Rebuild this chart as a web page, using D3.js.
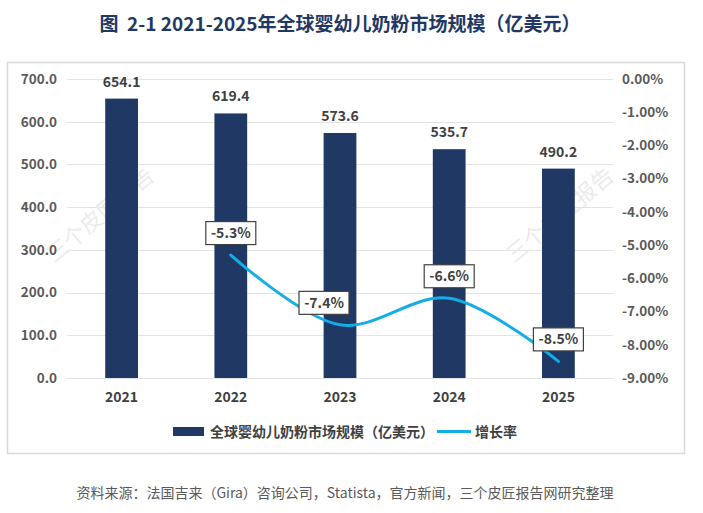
<!DOCTYPE html>
<meta charset="utf-8">
<script src="https://d3js.org/d3.v7.min.js"></script>
<style>
  body { margin: 0; background: #fff; }
  text { font-family: "Microsoft YaHei", "Noto Sans CJK SC", sans-serif; }
</style>
<div id="chart"></div>
<script>

// data
var years = ["2021", "2022", "2023", "2024", "2025"];
var marketSize = [654.1, 619.4, 573.6, 535.7, 490.2];   // 亿美元
var growth = [null, -5.3, -7.4, -6.6, -8.5];            // %
var leftTicks = [0, 100, 200, 300, 400, 500, 600, 700];
var rightTicks = [0, -1, -2, -3, -4, -5, -6, -7, -8, -9];

var W = 703, H = 513;
var plot = {left: 67, right: 613, top: 79, bottom: 378};

// plain hyphen minus, like the original
var loc = d3.formatLocale({decimal: ".", thousands: ",", grouping: [3], currency: ["", ""], minus: "-"});
var f1 = loc.format(".1f"), f2 = loc.format(".2f");

var svg = d3.select("#chart").append("svg")
    .attr("width", W)
    .attr("height", H);

// title
svg.append("text")
  .attr("x", 340).attr("y", 31)
  .attr("text-anchor", "middle")
  .attr("font-size", "19px")
  .attr("font-weight", "bold")
  .attr("fill", "#1f3864")
  .text("图\u00a0\u00a02-1 2021-2025年全球婴幼儿奶粉市场规模（亿美元）");

// chart frame
svg.append("rect")
  .attr("x", 7.5).attr("y", 62.5)
  .attr("width", 677).attr("height", 391)
  .attr("fill", "#fff")
  .attr("stroke", "#d9d9d9")
  .attr("stroke-width", 1.5);

var x = d3.scaleBand()
  .domain(years)
  .range([plot.left, plot.right])
  .paddingInner(0.7)
  .paddingOuter(0.35);

var y = d3.scaleLinear()
  .domain([0, 700])
  .range([plot.bottom, plot.top]);

var y2 = d3.scaleLinear()
  .domain([-9, 0])
  .range([plot.bottom, plot.top]);

// gridlines
svg.append("g")
  .selectAll("line")
  .data(leftTicks)
  .enter().append("line")
    .attr("x1", plot.left).attr("x2", plot.right)
    .attr("y1", function(d) { return Math.round(y(d)) + 0.5; })
    .attr("y2", function(d) { return Math.round(y(d)) + 0.5; })
    .attr("stroke", "#e3e3e3")
    .attr("stroke-width", 1);

// watermarks
[[100, 215], [560, 215]].forEach(function(p) {
  svg.append("text")
    .attr("transform", "translate(" + p[0] + "," + p[1] + ") rotate(-40)")
    .attr("text-anchor", "middle")
    .attr("dy", "0.35em")
    .attr("font-size", "22px")
    .attr("fill", "#ebebeb")
    .text("三个皮匠报告");
});

var axisFont = "\"Microsoft YaHei\", \"Noto Sans CJK SC\", sans-serif";

// left axis
var axL = svg.append("g")
  .attr("transform", "translate(57,0)")
  .call(d3.axisLeft(y).tickValues(leftTicks).tickSize(0).tickPadding(0).tickFormat(f1));
axL.select(".domain").remove();
axL.selectAll("text")
  .attr("font-size", "13.5px")
  .attr("font-weight", 600)
  .attr("fill", "#595959")
  .style("font-family", axisFont);

// right axis
var axR = svg.append("g")
  .attr("transform", "translate(622,0)")
  .call(d3.axisRight(y2).tickValues(rightTicks).tickSize(0).tickPadding(0)
    .tickFormat(function(d) { return f2(d) + "%"; }));
axR.select(".domain").remove();
axR.selectAll("text")
  .attr("font-size", "13.5px")
  .attr("font-weight", 600)
  .attr("fill", "#595959")
  .style("font-family", axisFont);

// x axis labels
var axB = svg.append("g")
  .attr("transform", "translate(0," + plot.bottom + ")")
  .call(d3.axisBottom(x).tickSize(0).tickPadding(14));
axB.select(".domain").remove();
axB.selectAll("text")
  .attr("font-size", "14px")
  .attr("font-weight", 600)
  .attr("fill", "#404040")
  .style("font-family", axisFont);

// bars
svg.append("g")
  .selectAll("rect")
  .data(marketSize)
  .enter().append("rect")
    .attr("x", function(d, i) { return x(years[i]); })
    .attr("y", function(d) { return y(d); })
    .attr("width", x.bandwidth())
    .attr("height", function(d) { return y(0) - y(d); })
    .attr("fill", "#1f3864");

// bar values
svg.append("g")
  .selectAll("text")
  .data(marketSize)
  .enter().append("text")
    .attr("x", function(d, i) { return x(years[i]) + x.bandwidth() / 2; })
    .attr("y", function(d) { return y(d) - 12; })
    .attr("text-anchor", "middle")
    .attr("font-size", "14px")
    .attr("font-weight", 600)
    .attr("fill", "#404040")
    .text(function(d) { return f1(d); });

// growth line
var pts = growth.map(function(g, i) { return {year: years[i], g: g}; })
  .filter(function(d) { return d.g !== null; });

svg.append("path")
  .datum(pts)
  .attr("fill", "none")
  .attr("stroke", "#14aee6")
  .attr("stroke-width", 3)
  .attr("stroke-linecap", "round")
  .attr("d", d3.line()
    .x(function(d) { return x(d.year) + x.bandwidth() / 2; })
    .y(function(d) { return y2(d.g); })
    .curve(d3.curveCatmullRom.alpha(0.5)));

// growth labels in boxes
var lab = svg.append("g")
  .selectAll("g")
  .data(pts)
  .enter().append("g")
    .attr("transform", function(d, i) {
      var cx = x(d.year) + x.bandwidth() / 2 + (i === 1 ? -16 : 0);
      return "translate(" + cx + "," + (y2(d.g) - 22) + ")";
    });
lab.append("rect")
  .attr("x", -25).attr("y", -11.5)
  .attr("width", 50).attr("height", 23)
  .attr("fill", "#fff")
  .attr("stroke", "#404040")
  .attr("stroke-width", 1.2);
lab.append("text")
  .attr("text-anchor", "middle")
  .attr("dy", "0.36em")
  .attr("font-size", "14px")
  .attr("font-weight", 600)
  .attr("fill", "#404040")
  .text(function(d) { return f1(d.g) + "%"; });

// legend
var leg = svg.append("g");
leg.append("rect")
  .attr("x", 173).attr("y", 427)
  .attr("width", 31).attr("height", 9)
  .attr("fill", "#1f3864");
leg.append("text")
  .attr("x", 210).attr("y", 437)
  .attr("font-size", "14px")
  .attr("font-weight", 600)
  .attr("fill", "#404040")
  .text("全球婴幼儿奶粉市场规模（亿美元）");
leg.append("line")
  .attr("x1", 437).attr("x2", 471)
  .attr("y1", 431.5).attr("y2", 431.5)
  .attr("stroke", "#14aee6")
  .attr("stroke-width", 3);
leg.append("text")
  .attr("x", 475).attr("y", 437)
  .attr("font-size", "14px")
  .attr("font-weight", 600)
  .attr("fill", "#404040")
  .text("增长率");

// source
svg.append("text")
  .attr("x", 345).attr("y", 498)
  .attr("text-anchor", "middle")
  .attr("font-size", "14px")
  .attr("fill", "#595959")
  .text("资料来源：法国吉来（Gira）咨询公司，Statista，官方新闻，三个皮匠报告网研究整理");

</script>
